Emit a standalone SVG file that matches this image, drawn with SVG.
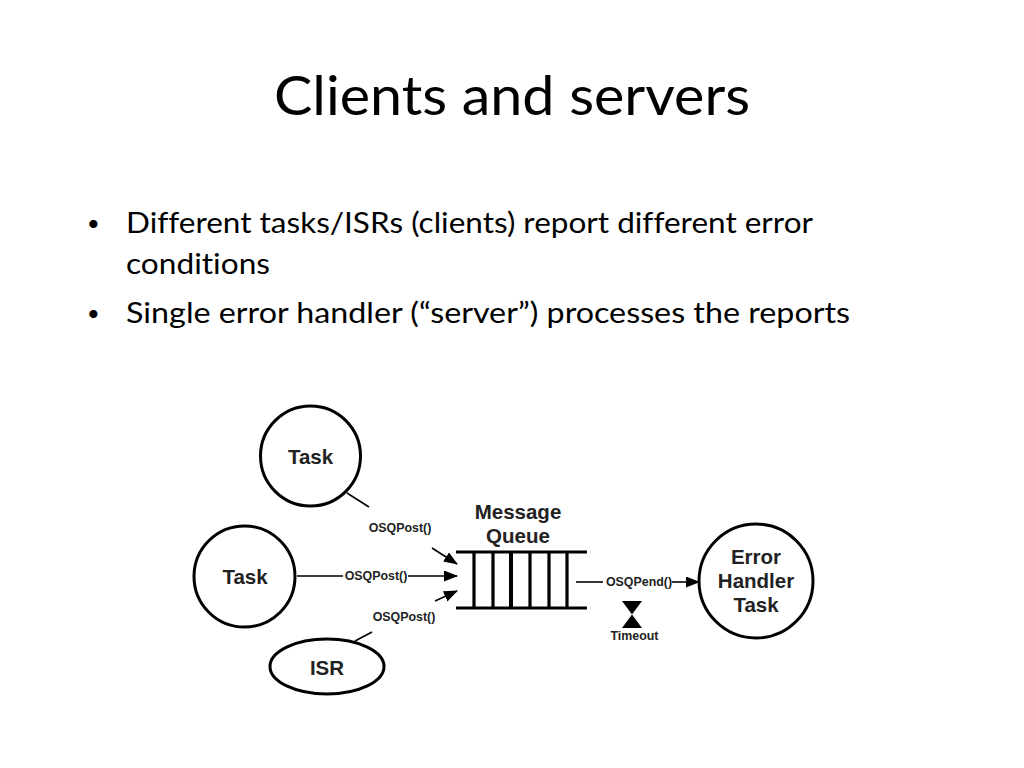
<svg xmlns="http://www.w3.org/2000/svg" width="1024" height="768" viewBox="0 0 1024 768">
<style>
.t{font-family:Lato,"Noto Sans",sans-serif;fill:#000;font-variant-ligatures:none}
.b{font-size:29px}
.d{font-size:22px}
.l{font-family:"Liberation Sans",Arial,sans-serif;font-weight:700;fill:#222;text-anchor:middle}
.n{font-size:20.5px}
.s{font-size:12.4px}
.c{fill:#fff;stroke:#000;stroke-width:3}
.w{stroke:#000;stroke-width:1.6;fill:none}
.q{stroke:#000;stroke-width:3.2;fill:none}
</style>
<defs><marker id="a" markerWidth="14" markerHeight="12" refX="13" refY="5.5" orient="auto" markerUnits="userSpaceOnUse"><path d="M0 0L14 5.500L0 11z" fill="#000"/></marker></defs>
<rect width="1024" height="768" fill="#fff"/>
<text class="t" x="512" y="115" font-size="54" text-anchor="middle" textLength="476" lengthAdjust="spacingAndGlyphs">Clients and servers</text>
<text class="t d" x="87" y="231">•</text>
<text class="t b" x="126" y="233" textLength="687" lengthAdjust="spacingAndGlyphs">Different tasks/ISRs (clients) report different error</text>
<text class="t b" x="126" y="274" textLength="144" lengthAdjust="spacingAndGlyphs">conditions</text>
<text class="t d" x="87" y="321">•</text>
<text class="t b" x="126" y="323" textLength="724" lengthAdjust="spacingAndGlyphs">Single error handler (“server”) processes the reports</text>
<g id="connectors">
<path class="w" d="M347 493L369 507"/>
<path class="w" d="M432 548L457 564" marker-end="url(#a)"/>
<path class="w" d="M297 576H343"/>
<path class="w" d="M408 576H457" marker-end="url(#a)"/>
<path class="w" d="M355 641L372 632"/>
<path class="w" d="M435 601L457 591" marker-end="url(#a)"/>
<path class="w" d="M576 582H603"/>
<path class="w" d="M672 582H699" marker-end="url(#a)"/>
</g>
<g id="task1"><circle class="c" cx="310.500" cy="456" r="50"/><text class="l n" x="310.500" y="464">Task</text></g>
<g id="task2"><circle class="c" cx="244.500" cy="576.500" r="50.500"/><text class="l n" x="245" y="584">Task</text></g>
<g id="isr"><ellipse class="c" cx="327" cy="666.500" rx="57" ry="27.500"/><text class="l n" x="327" y="675">ISR</text></g>
<g id="queue">
<path class="q" d="M456 552H587M456 608H587M474 552V608M493 552V608M530 552V608M549 552V608M567 552V608"/>
<path d="M511 552V608" stroke="#000" stroke-width="4" fill="none"/>
<text class="l n" x="518" y="519">Message</text><text class="l n" x="518" y="543">Queue</text>
</g>
<g id="handler"><circle class="c" cx="756" cy="581" r="57"/><text class="l n" x="756" y="564">Error</text><text class="l n" x="756" y="588">Handler</text><text class="l n" x="756" y="612">Task</text></g>
<g id="timeout"><path d="M622 601H642L622 628H642z" fill="#000"/><text class="l s" x="634.500" y="640">Timeout</text></g>
<text class="l s" x="400" y="532">OSQPost()</text>
<text class="l s" x="376" y="580">OSQPost()</text>
<text class="l s" x="404" y="621">OSQPost()</text>
<text class="l s" x="639" y="586">OSQPend()</text>
</svg>
